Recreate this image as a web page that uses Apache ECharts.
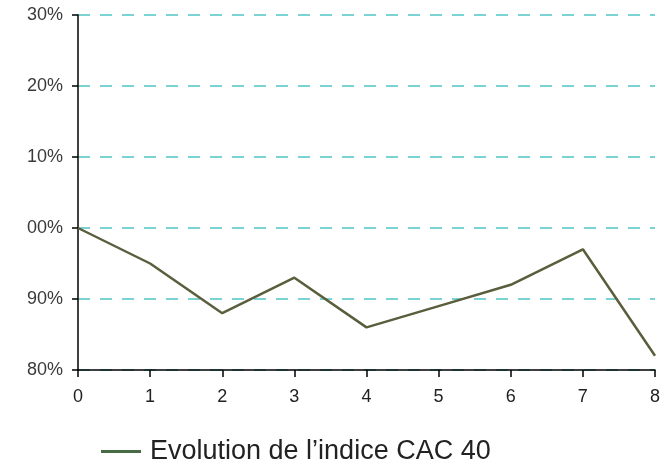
<!DOCTYPE html>
<html>
<head>
<meta charset="utf-8">
<script src="https://cdn.jsdelivr.net/npm/echarts@6/dist/echarts.min.js"></script>
<style>html,body{margin:0;padding:0;background:#fff;}#c{width:668px;height:464px;}</style>
</head>
<body>
<div id="c"></div>
<script>
const categories = ["0","1","2","3","4","5","6","7","8"];
const cacValues = [100, 95, 88, 93, 86, 89, 92, 97, 82];
const yTickLabels = ["80%","90%","00%","10%","20%","30%"];
const seriesName = "Evolution de l\u2019indice CAC 40";

const chart = echarts.init(document.getElementById('c'), null, {renderer:'canvas'});
chart.setOption({
  animation: false,
  backgroundColor: '#fff',
  grid: {left: 78, right: 13, top: 15, bottom: 94},
  xAxis: {
    type: 'category', data: categories, boundaryGap: false,
    axisLine: {lineStyle: {color: '#000', width: 1.5}},
    axisTick: {show: true, length: 7, lineStyle: {color: '#000', width: 1.5}},
    axisLabel: {color: '#222', fontSize: 18, fontFamily: 'Liberation Sans, Arial', margin: 18},
    splitLine: {show: false}
  },
  yAxis: {
    type: 'value', min: 80, max: 130, interval: 10,
    axisLine: {show: true, lineStyle: {color: '#000', width: 1.5}},
    axisTick: {show: true, length: 6, lineStyle: {color: '#000', width: 1.5}},
    axisLabel: {color: '#3a3a3a', fontSize: 18, fontFamily: 'Liberation Sans, Arial', margin: 15,
      formatter: function(v){ return yTickLabels[Math.round((v-80)/10)]; }},
    splitLine: {show: true, lineStyle: {color: '#4fc4c4', width: 1.5, type: [12, 10]}}
  },
  legend: {
    left: 96, top: 433,
    icon: 'rect', itemWidth: 40, itemHeight: 3, itemGap: 10,
    itemStyle: {color: '#476b45'},
    textStyle: {color: '#222', fontSize: 27, fontFamily: 'Liberation Sans, Arial', padding: [0,0,0,4]},
    data: [seriesName]
  },
  series: [{
    name: seriesName, type: 'line', data: cacValues,
    showSymbol: false, symbol: 'none',
    lineStyle: {color: '#5a5e3c', width: 2.5},
    itemStyle: {color: '#5a5e3c'}
  }]
});
</script>
</body>
</html>
